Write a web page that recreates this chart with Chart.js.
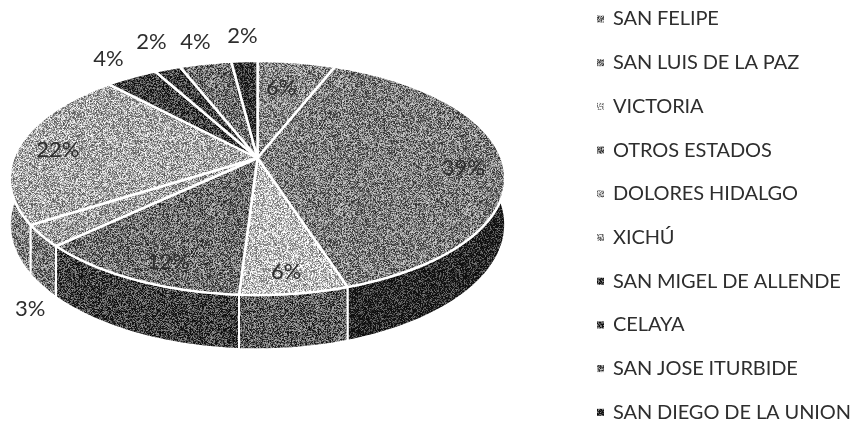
<!DOCTYPE html>
<html>
<head>
<meta charset="utf-8">
<style>
  html, body { margin: 0; padding: 0; background: #fff; }
  canvas { display: block; }
</style>
<script src="https://cdn.jsdelivr.net/npm/chart.js@4/dist/chart.umd.min.js"></script>
</head>
<body>
<canvas id="chart-municipios" width="856" height="421"></canvas>
<script>
/* ================== DATOS ================== */
const municipios = ['SAN FELIPE', 'SAN LUIS DE LA PAZ', 'VICTORIA', 'OTROS ESTADOS', 'DOLORES HIDALGO',
  'XICHÚ', 'SAN MIGEL DE ALLENDE', 'CELAYA', 'SAN JOSE ITURBIDE', 'SAN DIEGO DE LA UNION'];
const porcentajes = [6, 39, 6, 12, 3, 22, 4, 2, 4, 2];

/* ================== ESTILO ================== */
const topGrays = [135, 125, 190, 112, 160, 168, 62, 58, 112, 50];
const wallGrays = [90, 34, 92, 62, 118, 130, 40, 40, 70, 35];
// radio relativo y ajuste en px de cada etiqueta
const labelRadius = [0.7, 0.84, 0.86, 0.875, 1, 0.84, 1, 1, 1, 1];
const labelNudge = [[-5, 0], [0, 7], [-2, 0], [16, 0], [-12, 73], [0, 4], [-23, -18], [-16, -27], [-10, -22], [-2, -25]];

const pie = { x: 257.5, y: 158, a: 244, b: 113.6, k: 0.171, depth: 45 };
const legend = { markX: 597, markSize: 7, textX: 613, top: 19, step: 43.7 };
const labelFont = '22px Lato';
const legendFont = '20px Lato';
const textColor = '#2e2e2e';

/** proyecta un punto del disco (perspectiva) */
let project = (angle, r, drop = 0) => {
  let u = Math.cos(angle) * r, v = Math.sin(angle) * r;
  let w = 1 - pie.k * v;
  return { x: pie.x + pie.a * u / w, y: pie.y + (pie.b * v + drop) / w };
};

/** textura de semitono tipo fotocopia */
let halftone = (ctx, gray) => {
  let size = 128;
  let c = document.createElement('canvas');
  c.width = c.height = size;
  let g = c.getContext('2d');
  let img = g.createImageData(size, size);
  for (let y = 0; y < size; y++) {
    for (let x = 0; x < size; x++) {
      let n = Math.sin(x * 12.9898 + y * 78.233) * 43758.5453;
      n -= Math.floor(n);
      let val = Math.max(15, Math.min(255, gray + (n - 0.5) * 170));
      let i = (y * size + x) * 4;
      img.data[i] = img.data[i + 1] = img.data[i + 2] = val;
      img.data[i + 3] = 255;
    }
  }
  g.putImageData(img, 0, 0);
  return ctx.createPattern(c, 'repeat');
};

let arcPoints = (start, end, drop) => {
  let pts = [];
  let steps = Math.max(2, Math.ceil((end - start) / 0.02));
  for (let i = 0; i <= steps; i++) pts.push(project(start + (end - start) * i / steps, 1, drop));
  return pts;
};

let tracePath = (ctx, pts) => {
  ctx.beginPath();
  pts.forEach((p, i) => i ? ctx.lineTo(p.x, p.y) : ctx.moveTo(p.x, p.y));
  ctx.closePath();
};

const pie3d = {
  id: 'pie3d',
  beforeDatasetsDraw(chart) {
    let ctx = chart.ctx;
    let arcs = chart.getDatasetMeta(0).data;
    let order = arcs.map((_, i) => i).sort((p, q) =>
      Math.sin((arcs[p].startAngle + arcs[p].endAngle) / 2) - Math.sin((arcs[q].startAngle + arcs[q].endAngle) / 2));

    ctx.save();
    ctx.strokeStyle = '#fff';
    ctx.lineJoin = 'round';

    // paredes
    ctx.lineWidth = 2;
    order.forEach(i => {
      let { startAngle, endAngle } = arcs[i];
      let pts = arcPoints(startAngle, endAngle, 0).concat(arcPoints(startAngle, endAngle, pie.depth).reverse());
      tracePath(ctx, pts);
      ctx.fillStyle = halftone(ctx, wallGrays[i]);
      ctx.fill();
      ctx.stroke();
    });

    // cara superior
    ctx.lineWidth = 2.5;
    arcs.forEach((arc, i) => {
      let pts = [project(0, 0)].concat(arcPoints(arc.startAngle, arc.endAngle, 0));
      tracePath(ctx, pts);
      ctx.fillStyle = halftone(ctx, topGrays[i]);
      ctx.fill();
      ctx.stroke();
    });

    // etiquetas
    ctx.font = labelFont;
    ctx.fillStyle = textColor;
    ctx.textAlign = 'center';
    ctx.textBaseline = 'middle';
    arcs.forEach((arc, i) => {
      let p = project((arc.startAngle + arc.endAngle) / 2, labelRadius[i]);
      ctx.fillText(porcentajes[i] + '%', p.x + labelNudge[i][0], p.y + labelNudge[i][1]);
    });

    // leyenda
    ctx.font = legendFont;
    ctx.letterSpacing = '-0.1px';
    ctx.textAlign = 'left';
    municipios.forEach((name, i) => {
      let y = legend.top + legend.step * i;
      ctx.fillStyle = halftone(ctx, topGrays[i]);
      ctx.fillRect(legend.markX, y - legend.markSize / 2, legend.markSize, legend.markSize);
      ctx.fillStyle = textColor;
      ctx.fillText(name, legend.textX, y);
    });
    ctx.restore();
    return false;
  }
};

new Chart(document.getElementById('chart-municipios').getContext('2d'), {
  type: 'pie',
  data: { labels: municipios, datasets: [{ data: porcentajes }] },
  options: {
    responsive: false,
    animation: false,
    rotation: 0,
    plugins: { legend: { display: false }, tooltip: { enabled: false } }
  },
  plugins: [pie3d]
});
</script>
</body>
</html>
